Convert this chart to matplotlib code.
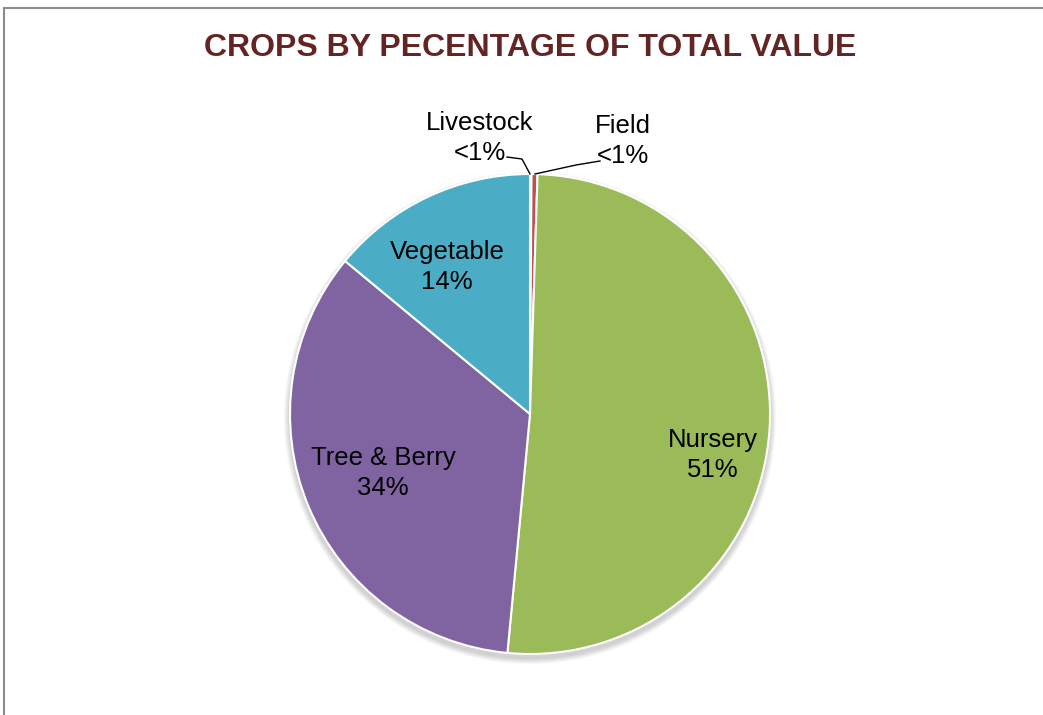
import matplotlib
matplotlib.use("Agg")
import matplotlib.pyplot as plt
from matplotlib.patches import Circle

plt.rcParams['font.family'] = ['Liberation Sans', 'DejaVu Sans']

# data, clockwise from 12 o'clock
categories = ['Livestock', 'Field', 'Nursery', 'Tree & Berry', 'Vegetable']
values = [0.1, 0.4, 51.0, 34.5, 14.0]
pct_labels = ['<1%', '<1%', '51%', '34%', '14%']
colors = ['#4F81BD', '#C0504D', '#9BBB59', '#8064A2', '#4BACC6']

W, H = 1043, 715
fig = plt.figure(figsize=(W / 100, H / 100), dpi=100)
ax = fig.add_axes([0, 0, 1, 1])
ax.set_xlim(0, W)
ax.set_ylim(0, H)
ax.set_aspect('equal')
ax.axis('off')

cx, cy, r = 530, H - 414, 240

# soft shadow under the pie
for i in range(6):
    ax.add_patch(Circle((cx, cy - 4), r + 6 - i, color='#000000', alpha=0.03, lw=0, zorder=0))

ax.pie(values, colors=colors, startangle=90, counterclock=False,
       center=(cx, cy), radius=r, frame=True,
       wedgeprops=dict(edgecolor='white', linewidth=1.5))
ax.set_xlim(0, W)
ax.set_ylim(0, H)
ax.axis('off')

# chart border (partly cut off in the reference)
ax.plot([3.5, 3.5], [0, H - 8], color='#8c8c8c', lw=1.5, clip_on=False)
ax.plot([3.5, W], [H - 8, H - 8], color='#8c8c8c', lw=1.5, clip_on=False)

ax.text(530, H - 48, 'CROPS BY PECENTAGE OF TOTAL VALUE', ha='center', va='center',
        fontsize=23, fontweight='bold', color='#632523')

fs = 18.5
label_pos = {
    'Livestock': (480, H - 138),
    'Field': (623, H - 141),
    'Nursery': (713, H - 455),
    'Tree & Berry': (383, H - 473),
    'Vegetable': (447, H - 267),
}
for cat, pct in zip(categories, pct_labels):
    x, y = label_pos[cat]
    ax.text(x, y, f'{cat}\n{pct}', ha='center', va='center', fontsize=fs,
            color='black', linespacing=1.35)

# leader lines for the two small slices
ax.plot([507, 522, 530], [H - 157, H - 159, H - 174], color='black', lw=1)
ax.plot([600, 576, 535], [H - 161, H - 165, H - 174], color='black', lw=1)

fig.savefig('out.png', dpi=100)
